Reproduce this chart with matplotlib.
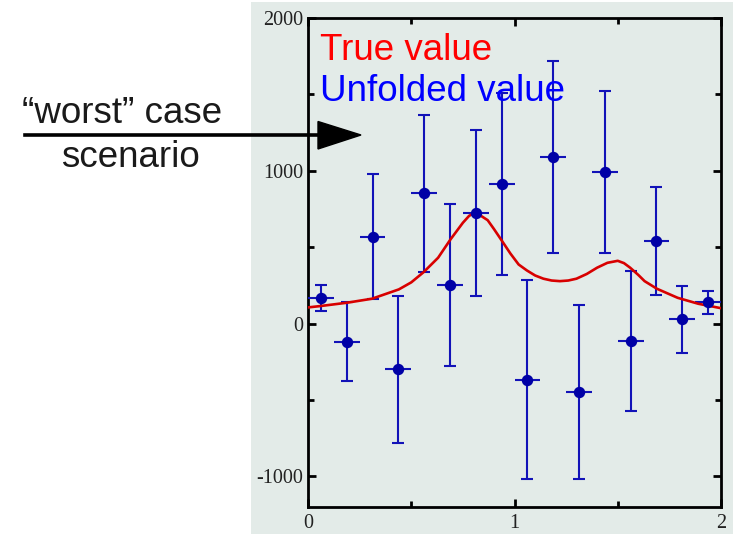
import matplotlib
matplotlib.use("Agg")
import matplotlib.pyplot as plt
from matplotlib.patches import Rectangle, Polygon
from matplotlib.lines import Line2D
from matplotlib.ticker import MultipleLocator

plt.rcParams["axes.unicode_minus"] = False

# Unfolded spectrum: 16 bins on [0, 2]
bin_centers = [0.0625, 0.1875, 0.3125, 0.4375, 0.5625, 0.6875, 0.8125, 0.9375,
               1.0625, 1.1875, 1.3125, 1.4375, 1.5625, 1.6875, 1.8125, 1.9375]
bin_halfwidth = 0.0625
unfolded = [169, -118, 570, -300, 852, 254, 725, 915,
            -367, 1091, -448, 993, -114, 540, 27, 141]
unfolded_err = [87, 258, 406, 482, 515, 530, 543, 596,
                652, 629, 569, 530, 460, 353, 219, 75]

# True distribution sampled along x
true_x = [0.00, 0.06, 0.19, 0.31, 0.44, 0.50, 0.56, 0.63, 0.69, 0.75, 0.78, 0.80,
          0.83, 0.87, 0.90, 0.94, 0.98, 1.02, 1.06, 1.10, 1.14, 1.18, 1.22, 1.26,
          1.30, 1.35, 1.40, 1.45, 1.50, 1.53, 1.56, 1.60, 1.63, 1.69, 1.79, 1.89, 2.00]
true_y = [106, 115, 137, 163, 224, 270, 337, 431, 551, 660, 705, 721,
          712, 677, 620, 540, 459, 387, 348, 315, 294, 282, 278, 282,
          294, 325, 366, 398, 411, 396, 366, 318, 278, 228, 169, 130, 101]

legend_labels = ["True value", "Unfolded value"]
side_lines = ["\u201cworst\u201d case", "scenario"]

W, H = 735, 534
fig = plt.figure(figsize=(W / 100, H / 100), dpi=100)
fig.patch.set_facecolor("white")

panel_color = "#e3ebe8"


def fx(px):
    return px / W


def fy(py):
    return 1 - py / H


# Canvas panel behind the frame
fig.patches.append(Rectangle((fx(251), fy(534)), fx(733) - fx(251), fy(2) - fy(534),
                             transform=fig.transFigure, facecolor=panel_color,
                             edgecolor="none", zorder=-5))

ax = fig.add_axes([fx(308), fy(507), fx(721) - fx(308), fy(18) - fy(507)])
ax.set_zorder(1)
ax.set_facecolor(panel_color)
ax.set_xlim(0, 2)
ax.set_ylim(-1200, 2000)

for s in ax.spines.values():
    s.set_linewidth(2.0)
    s.set_color("black")

ax.xaxis.set_major_locator(MultipleLocator(1))
ax.xaxis.set_minor_locator(MultipleLocator(0.5))
ax.yaxis.set_major_locator(MultipleLocator(1000))
ax.yaxis.set_minor_locator(MultipleLocator(500))
ax.tick_params(which="both", direction="in", top=True, right=True, color="black")
ax.tick_params(which="major", length=6, width=2.0)
ax.tick_params(which="minor", length=4, width=2.0)
ax.tick_params(axis="y", which="major", pad=3.5)
ax.tick_params(axis="x", which="major", pad=5)
for lab in ax.get_xticklabels() + ax.get_yticklabels():
    lab.set_family("Liberation Serif")
    lab.set_fontsize(14.5)
    lab.set_color("#222222")

line_blue = "#1212b8"
mark_blue = "#0000a6"

# True curve
ax.plot(true_x, true_y, color="#d80000", lw=1.9, zorder=4, solid_joinstyle="round")

# Unfolded points: vertical errors with caps, horizontal bin width without
ax.errorbar(bin_centers, unfolded, yerr=unfolded_err, fmt="none", ecolor=line_blue,
            elinewidth=1.5, capsize=4.5, capthick=1.5, zorder=3)
ax.errorbar(bin_centers, unfolded, xerr=bin_halfwidth, fmt="none", ecolor=line_blue,
            elinewidth=1.5, capsize=0, zorder=3)
ax.plot(bin_centers, unfolded, "o", color=mark_blue, ms=7.2, zorder=5)

# Legend text
fig.text(fx(320), fy(60), legend_labels[0], color="#ff0000", fontsize=26.5,
         family="Liberation Sans", va="baseline", ha="left", zorder=10)
fig.text(fx(320), fy(101), legend_labels[1], color="#0000ff", fontsize=26.5,
         family="Liberation Sans", va="baseline", ha="left", zorder=10)

# Side annotation with arrow
fig.text(fx(122), fy(123), side_lines[0], color="#1a1a1a", fontsize=26.5,
         family="Liberation Sans", va="baseline", ha="center")
fig.text(fx(130), fy(167), side_lines[1], color="#1a1a1a", fontsize=26.5,
         family="Liberation Sans", va="baseline", ha="center")
fig.add_artist(Line2D([fx(25), fx(322)], [fy(135), fy(135)], transform=fig.transFigure,
                      color="black", lw=2.6, zorder=10))
fig.patches.append(Polygon([(fx(318), fy(121.5)), (fx(361), fy(135)), (fx(318), fy(149))],
                           closed=True, transform=fig.transFigure, facecolor="black",
                           edgecolor="black", zorder=10))

fig.savefig("out.png", dpi=100)
